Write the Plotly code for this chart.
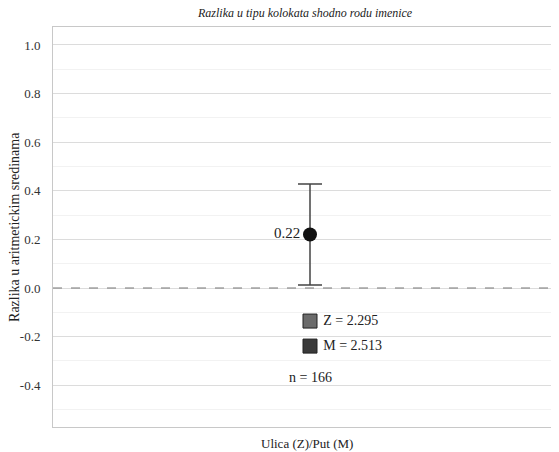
import plotly.graph_objects as go

# Data
category = ["Ulica (Z)/Put (M)"]
diff_mean = [0.22]
ci_upper = [0.428]
ci_lower = [0.012]
group_labels = ["Z = 2.295", "M = 2.513"]
group_colors = ["#6b6b6b", "#3a3a3a"]
n_label = "n = 166"

x_pos = 0.5
font_serif = "Liberation Serif"

fig = go.Figure()

fig.add_trace(go.Scatter(
    x=[x_pos], y=diff_mean, mode="markers+text",
    marker=dict(size=14, color="#111111"),
    text=[f"{diff_mean[0]:.2f}"], textposition="middle left",
    textfont=dict(family=font_serif, size=15, color="#222"),
    error_y=dict(type="data", symmetric=False,
                 array=[ci_upper[0] - diff_mean[0]],
                 arrayminus=[diff_mean[0] - ci_lower[0]],
                 color="#444444", thickness=1.5, width=12),
    showlegend=False, hoverinfo="skip",
))

# legend-like squares
leg_y = [-0.136, -0.239]
fig.add_trace(go.Scatter(
    x=[x_pos, x_pos], y=leg_y, mode="markers+text",
    marker=dict(symbol="square", size=14, color=group_colors,
                line=dict(color="#222", width=1)),
    text=[" " + t for t in group_labels], textposition="middle right",
    textfont=dict(family=font_serif, size=14, color="#222"),
    showlegend=False, hoverinfo="skip",
))

fig.add_annotation(x=0.455, y=-0.37, xref="x", yref="y", text=n_label,
                   showarrow=False, xanchor="left",
                   font=dict(family=font_serif, size=14, color="#222"))

fig.add_shape(type="line", xref="paper", x0=0, x1=1, yref="y", y0=0, y1=0,
              line=dict(color="#777777", width=1.2, dash="dash"))

# titles as annotations
fig.add_annotation(x=0.49, y=1.035, xref="paper", yref="paper",
                   text="<i>Razlika u tipu kolokata shodno rodu imenice</i>",
                   showarrow=False, xanchor="center", yanchor="middle",
                   font=dict(family=font_serif, size=12, color="#222"))
fig.add_annotation(x=0.494, y=-0.04, xref="paper", yref="paper",
                   text=category[0], showarrow=False,
                   xanchor="center", yanchor="middle",
                   font=dict(family=font_serif, size=13, color="#222"))
fig.add_annotation(x=-0.076, y=0.5, xref="paper", yref="paper",
                   text="Razlika u aritmetickim sredinama", showarrow=False,
                   textangle=-90, xanchor="center", yanchor="middle",
                   font=dict(family=font_serif, size=14, color="#222"))

fig.update_layout(
    width=559, height=452,
    margin=dict(l=45, r=0, t=19, b=33, autoexpand=False),
    paper_bgcolor="white", plot_bgcolor="white",
    font=dict(family=font_serif, size=12, color="#333"),
    xaxis=dict(range=[0, 1], showticklabels=False, showgrid=False,
               zeroline=False, showline=True, linecolor="#c8c8c8", mirror=True,
               automargin=False),
    yaxis=dict(range=[-0.572, 1.074], tickvals=[-0.4, -0.2, 0.0, 0.2, 0.4, 0.6, 0.8, 1.0],
               ticktext=["-0.4", "-0.2", "0.0", "0.2", "0.4", "0.6", "0.8", "1.0"],
               showgrid=True, gridcolor="#dcdcdc", gridwidth=1,
               minor=dict(dtick=0.1, tick0=0, showgrid=True, gridcolor="#f2f2f2"),
               zeroline=False, showline=True, linecolor="#c8c8c8", mirror=True,
               ticks="", ticklabelstandoff=9, automargin=False,
               tickfont=dict(family=font_serif, size=13, color="#333")),
)

fig.write_html("out.html")
